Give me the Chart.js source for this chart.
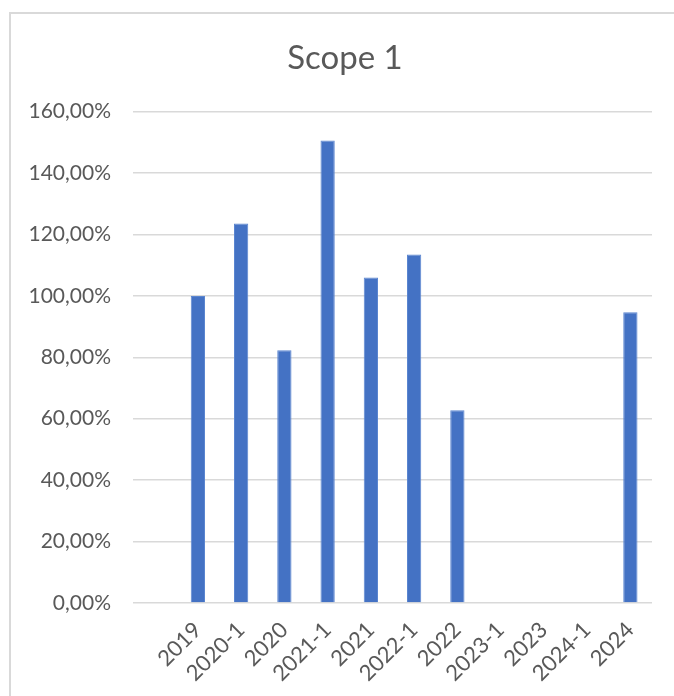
<!DOCTYPE html>
<html>
<head>
<meta charset="utf-8">
<script src="https://cdn.jsdelivr.net/npm/chart.js@4.4.1/dist/chart.umd.min.js"></script>
<style>
  html, body { margin: 0; padding: 0; background: #fff; overflow: hidden; }
  #wrap { position: relative; width: 674px; height: 696px; }
  #frame { position: absolute; left: 9px; top: 12px; width: 700px; height: 700px;
           border-left: 2px solid #d9d9d9; border-top: 2px solid #d9d9d9; }
  canvas { position: absolute; left: 0; top: 0; }
</style>
</head>
<body>
<div id="wrap">
  <div id="frame"></div>
  <canvas id="chart" width="674" height="696"></canvas>
</div>
<script>
// first category is blank in the original sheet
const periods = ['', '2019', '2020-1', '2020', '2021-1', '2021', '2022-1', '2022', '2023-1', '2023', '2024-1', '2024'];
const scope1 = [null, 100, 123.6, 82.3, 150.6, 106, 113.5, 62.8, null, null, null, 94.7];

const yMin = 0, yMax = 160, yStep = 20;
const textColor = '#595959';
const gridColor = '#d9d9d9';

const ctx = document.getElementById('chart').getContext('2d');
new Chart(ctx, {
    type: 'bar',
    data: {
        labels: periods,
        datasets: [{
            label: 'Scope 1',
            data: scope1,
            backgroundColor: '#4472c4',
            borderColor: '#5b86d0',
            borderWidth: 1,
            barPercentage: 0.33,
            categoryPercentage: 1
        }]
    },
    options: {
        responsive: false,
        animation: false,
        layout: { padding: { top: 39, right: 3, left: 19, bottom: 0 } },
        plugins: {
            legend: { display: false },
            tooltip: { enabled: false },
            title: {
                display: true,
                text: 'Scope 1',
                color: textColor,
                font: { family: 'Lato', size: 33, weight: 'normal' },
                padding: { top: 0, bottom: 33 }
            }
        },
        scales: {
            y: {
                min: yMin,
                max: yMax,
                ticks: {
                    stepSize: yStep,
                    color: textColor,
                    font: { family: 'Lato', size: 21 },
                    padding: 22,
                    callback: v => v.toFixed(2).replace('.', ',') + '%'
                },
                grid: { color: gridColor, lineWidth: 1.5, drawTicks: false },
                border: { display: false },
                afterFit: s => { s.width = 114; }
            },
            // empty spacer so the plot ends where the original does
            spacer: {
                position: 'right',
                ticks: { display: false },
                grid: { display: false },
                border: { display: false },
                afterFit: s => { s.width = 19; }
            },
            x: {
                ticks: {
                    color: textColor,
                    font: { family: 'Lato', size: 22 },
                    minRotation: 45,
                    maxRotation: 45,
                    autoSkip: false,
                    padding: 6
                },
                grid: { display: false },
                border: { display: false },
                afterFit: s => { s.height = 93; }
            }
        }
    }
});
</script>
</body>
</html>
